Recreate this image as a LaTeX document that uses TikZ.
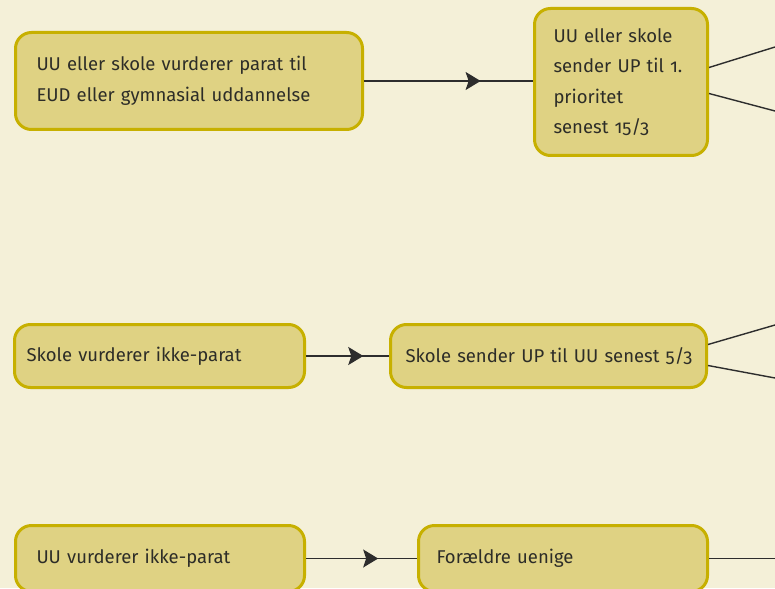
\documentclass[tikz,border=0pt]{standalone}
\usepackage{fontspec}
\setmainfont[Numbers=OldStyle]{Fira Sans}
\usetikzlibrary{arrows.meta,decorations.markings}
\definecolor{bg}{RGB}{244,240,216}
\definecolor{boxfill}{RGB}{223,210,131}
\definecolor{boxdraw}{RGB}{199,176,0}
\definecolor{linecol}{RGB}{45,45,45}
\definecolor{textcol}{RGB}{45,45,40}
\tikzset{
  box/.style={draw=boxdraw, fill=boxfill, line width=3pt, rounded corners=16pt,
    align=left, anchor=north west, inner ysep=0pt, text=textcol,
    font=\fontsize{18.5}{30.5}\selectfont},
  conn/.style={draw=linecol, line width=1.4pt},
  marrow/.style={postaction={decorate, decoration={markings,
    mark=at position #1 with {\arrow{Stealth[length=15pt,width=18pt,inset=3pt]}}}}}
}
\begin{document}
\begin{tikzpicture}[x=1pt,y=-1pt]
\useasboundingbox (0,0) rectangle (775,588);
\fill[bg] (0,0) rectangle (775,588);
\clip (0,0) rectangle (775,588);

\node[box, text width=305pt, inner xsep=21pt, minimum height=97pt] (A) at (14,31)
  {UU eller skole vurderer parat til\\EUD eller gymnasial uddannelse};
\node[box, text width=135pt, inner xsep=19pt, minimum height=147pt, yshift=-2pt] (B) at (533,5)
  {UU eller skole\\sender UP til 1.\\prioritet\\senest 15/3};
\node[box, text width=266pt, inner xsep=12pt, minimum height=63pt] (C) at (13,323)
  {Skole vurderer ikke-parat};
\node[box, text width=286pt, inner xsep=15pt, minimum height=63pt] (D) at (389,323)
  {\mbox{Skole sender UP til UU senest 5/3}};
\node[box, text width=247pt, inner xsep=21pt, minimum height=66pt] (E) at (14,524)
  {UU vurderer ikke-parat};
\node[box, text width=253pt, inner xsep=18pt, minimum height=66pt] (F) at (417,524)
  {Forældre uenige};

\coordinate (b1) at (775,47);
\coordinate (b2) at (775,111);
\coordinate (d1) at (775,325);
\coordinate (d2) at (775,378);
\coordinate (f1) at (775,557);

\draw[conn, marrow=0.69] (A.east) -- (B.west |- A.east);
\draw[conn, marrow=0.69] (C.east) -- (D.west);
\draw[conn, marrow=0.65] (E.east) -- (F.west);

\draw[conn] ([yshift=14.5pt]B.east) -- (b1);
\draw[conn] ([yshift=-11.5pt]B.east) -- (b2);
\draw[conn] ([yshift=11.5pt]D.east) -- (d1);
\draw[conn] ([yshift=-9.5pt]D.east) -- (d2);
\draw[conn] (F.east) -- (F.east -| f1);
\end{tikzpicture}
\end{document}
